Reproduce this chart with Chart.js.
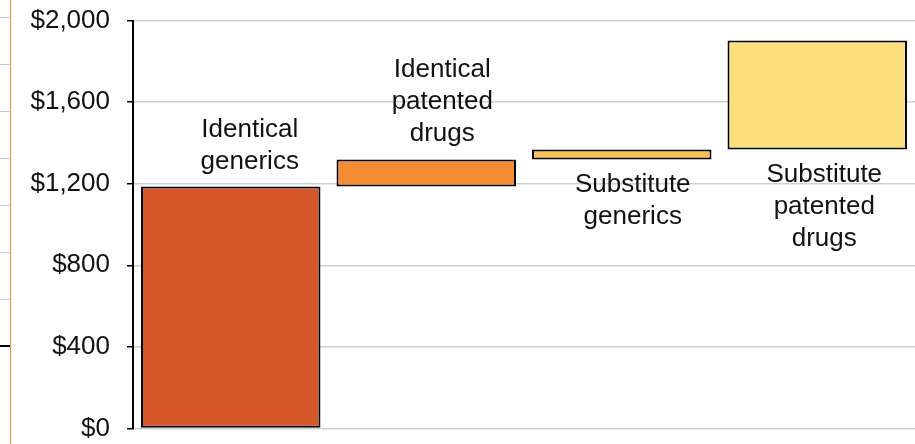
<!DOCTYPE html>
<html>
<head>
<meta charset="utf-8">
<script src="https://cdn.jsdelivr.net/npm/chart.js@4/dist/chart.umd.min.js"></script>
<style>
  html, body { margin: 0; padding: 0; background: #fff; }
  #wrap { position: relative; width: 915px; height: 444px; overflow: hidden; }
  #chart { position: absolute; left: 0; top: -12px; }
  /* clipped edge of the neighbouring panel */
  .edge { position: absolute; left: 10px; top: 0; width: 1px; height: 444px; background: #f7922e; }
  .etick { position: absolute; left: 0; width: 10px; height: 1px; background: #c8c8c8; }
  .etick.dark { background: #000; height: 2px; }
</style>
</head>
<body>
<div id="wrap">
  <canvas id="chart" width="915" height="473"></canvas>
  <div class="edge"></div>
  <div class="etick" style="top:17px"></div>
  <div class="etick" style="top:64px"></div>
  <div class="etick" style="top:111px"></div>
  <div class="etick" style="top:158px"></div>
  <div class="etick" style="top:205px"></div>
  <div class="etick" style="top:252px"></div>
  <div class="etick" style="top:299px"></div>
  <div class="etick dark" style="top:345px"></div>
</div>
<script>
// waterfall data
const categories = [
  ["Identical", "generics"],
  ["Identical", "patented", "drugs"],
  ["Substitute", "generics"],
  ["Substitute", "patented", "drugs"]
];
const increments = [1186, 133, 49, 534];
const tickValues = [0, 400, 800, 1200, 1600, 2000];

const barColors = ["#d4582b", "#f58c34", "#fabf55", "#fddf7e"];
// where each label sits relative to its bar
const labelSide = ["above", "above", "below", "below"];
const labelShift = [19, 16, 11, 7];

let running = 0;
const floating = increments.map(function(v){
  const seg = [running, running + v];
  running += v;
  return seg;
});

const FONT = "'Liberation Sans', Arial, sans-serif";

const barLabels = {
  id: "barLabels",
  afterDatasetsDraw: function(chart){
    const ctx = chart.ctx;
    const meta = chart.getDatasetMeta(0);
    ctx.save();
    ctx.font = "26px " + FONT;
    ctx.fillStyle = "#111";
    ctx.textAlign = "center";
    const lh = 32;
    meta.data.forEach(function(bar, i){
      const lines = categories[i];
      const props = bar.getProps(["x", "y", "base"], true);
      const top = Math.min(props.y, props.base);
      const bottom = Math.max(props.y, props.base);
      const x = props.x + labelShift[i];
      if(labelSide[i] === "above"){
        ctx.textBaseline = "alphabetic";
        let y = top - 18 - (lines.length - 1) * lh;
        lines.forEach(function(t, k){ ctx.fillText(t, x, y + k * lh); });
      }else{
        ctx.textBaseline = "top";
        let y = bottom + 12;
        lines.forEach(function(t, k){ ctx.fillText(t, x, y + k * lh); });
      }
    });
    ctx.restore();
  }
};

new Chart(document.getElementById("chart"), {
  type: "bar",
  data: {
    labels: categories.map(function(c){ return c.join(" "); }),
    datasets: [{
      data: floating,
      backgroundColor: barColors,
      borderColor: "#000",
      borderWidth: 2,
      borderSkipped: false,
      barPercentage: 0.918,
      categoryPercentage: 1.0
    }]
  },
  options: {
    responsive: false,
    animation: false,
    layout: { padding: { top: 0, right: 0, bottom: 0, left: 0 } },
    plugins: { legend: { display: false }, tooltip: { enabled: false } },
    scales: {
      x: { display: false, offset: true },
      y: {
        min: 0,
        max: 2000,
        afterBuildTicks: function(scale){
          scale.ticks = tickValues.map(function(v){ return { value: v }; });
        },
        afterFit: function(scale){ scale.width = 133; },
        border: { color: "#000", width: 2 },
        grid: { color: "#d0d0d0", lineWidth: 1.5, tickColor: "#000", tickLength: 6 },
        ticks: {
          padding: 17,
          color: "#111",
          font: { family: FONT, size: 26 },
          callback: function(v){ return "$" + Number(v).toLocaleString("en-US"); }
        }
      }
    }
  },
  plugins: [barLabels]
});
</script>
</body>
</html>
